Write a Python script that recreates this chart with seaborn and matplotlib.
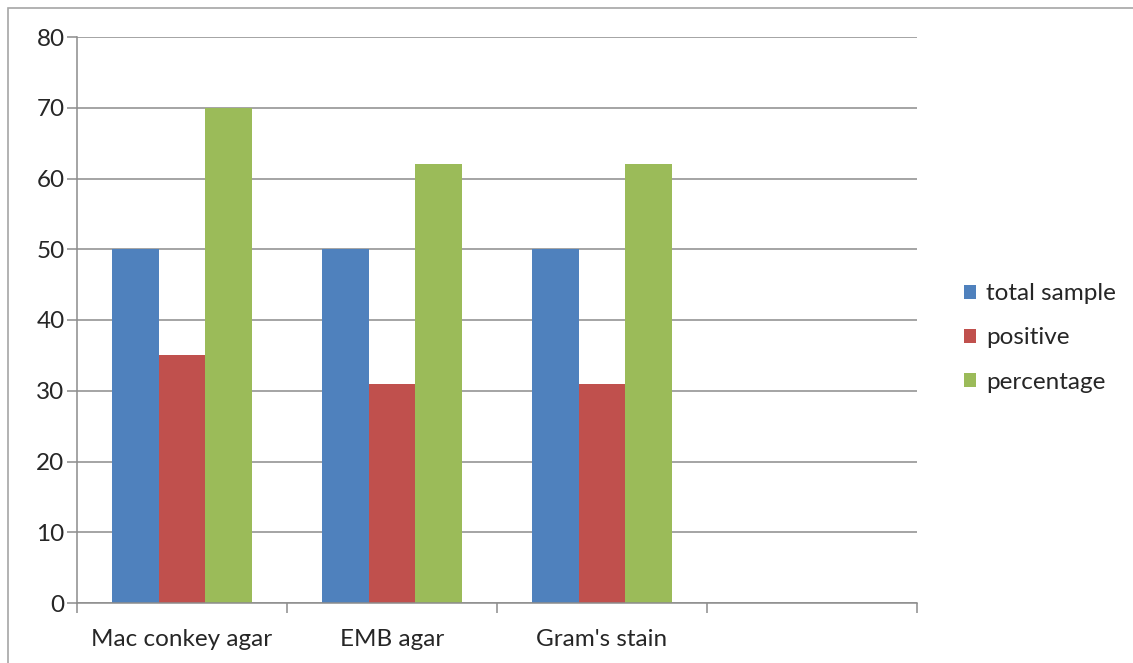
import matplotlib
matplotlib.use("Agg")
import matplotlib.pyplot as plt
from matplotlib.patches import Rectangle
import seaborn as sns
import pandas as pd

categories = ["Mac conkey agar", "EMB agar", "Gram's stain", ""]
series = ["total sample", "positive", "percentage"]
total_sample = [50, 50, 50]
positive = [35, 31, 31]
percentage = [70, 62, 62]
y_ticks = [0, 10, 20, 30, 40, 50, 60, 70, 80]

colors = ["#4F81BD", "#C0504D", "#9BBB59"]

rows = []
for name, vals in zip(series, [total_sample, positive, percentage]):
    for cat, v in zip(categories[:3], vals):
        rows.append({"category": cat, "series": name, "value": v})
df = pd.DataFrame(rows)

sns.set_theme(style="white")
plt.rcParams["font.family"] = ["Lato", "DejaVu Sans"]

W, H = 1133, 663
FS = 17.5
fig = plt.figure(figsize=(W / 100, H / 100), dpi=100)
ax = fig.add_axes([77 / W, 1 - 603 / H, (917 - 77) / W, (603 - 37) / H])

sns.barplot(data=df, x="category", y="value", hue="series", order=categories,
            hue_order=series, palette=colors, width=2 / 3, saturation=1,
            linewidth=0, ax=ax, legend=True)

ax.set_ylim(0, 80)
ax.set_xlim(-0.5, 3.5)
ax.set_yticks(y_ticks)
ax.set_yticklabels([str(t) for t in y_ticks])
ax.yaxis.grid(True, color="#8C8C8C", linewidth=1.1)
ax.set_axisbelow(True)
ax.set_xlabel("")
ax.set_ylabel("")

# category boundaries carry the tick marks, labels sit at the centres
ax.set_xticks([-0.5, 0.5, 1.5, 2.5, 3.5])
ax.set_xticklabels([])
ax.set_xticks([0, 1, 2, 3], minor=True)
ax.set_xticklabels(categories, minor=True)
ax.tick_params(axis="x", which="major", direction="out", length=7, width=1.1,
               color="#8C8C8C", bottom=True)
ax.tick_params(axis="x", which="minor", length=0, pad=19, labelsize=FS,
               labelcolor="#262626")
ax.tick_params(axis="y", direction="out", length=7, width=1.1, color="#8C8C8C",
               left=True, labelsize=FS, labelcolor="#262626", pad=2)

for side in ["top", "right"]:
    ax.spines[side].set_visible(False)
for side in ["left", "bottom"]:
    ax.spines[side].set_color("#8C8C8C")
    ax.spines[side].set_linewidth(1.1)

handles, labels = ax.get_legend_handles_labels()
ax.legend(handles, labels, loc="center left",
          bbox_to_anchor=(942 / W, 1 - 338 / H), bbox_transform=fig.transFigure,
          frameon=False, fontsize=FS, handlelength=0.5, handleheight=0.5,
          handletextpad=0.4, labelspacing=0.95, labelcolor="#262626")

# outer chart frame
fig.patches.append(Rectangle((8 / W, -0.05), 1.1, 1 - 8 / H + 0.05,
                             transform=fig.transFigure, fill=False,
                             edgecolor="#A6A6A6", linewidth=1.2))

fig.savefig("out.png", dpi=100)
